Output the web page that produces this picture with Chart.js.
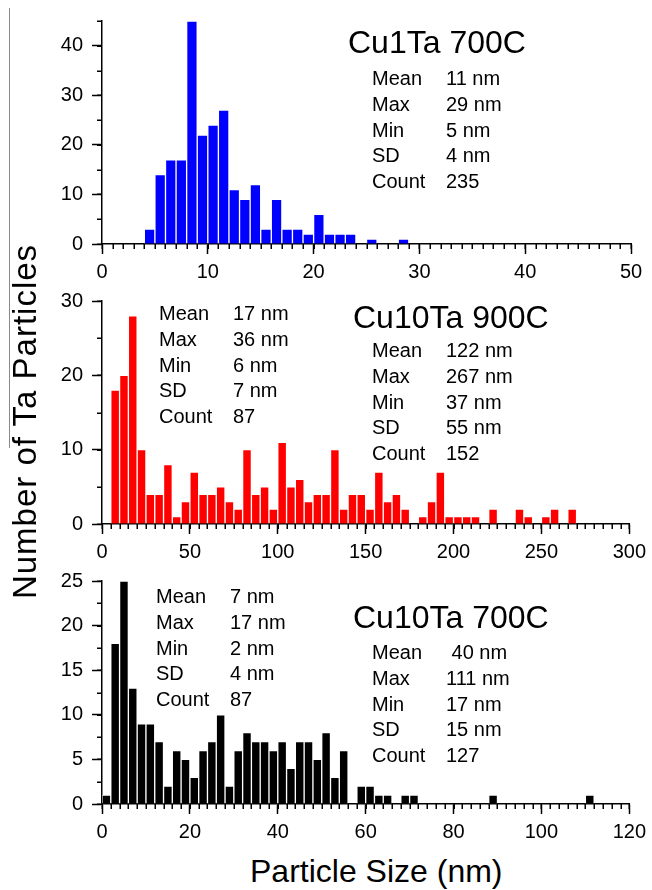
<!DOCTYPE html>
<html>
<head>
<meta charset="utf-8">
<script src="https://cdn.jsdelivr.net/npm/chart.js@4.4.1/dist/chart.umd.min.js"></script>
<style>
  body { margin: 0; background: #fff; }
  #wrap { position: relative; width: 652px; height: 890px; overflow: hidden;
          font-family: 'Liberation Sans', Arial, sans-serif; color: #000; }
  canvas { position: absolute; left: 0; }
  .txt { position: absolute; white-space: pre; line-height: 1; }
  .edge { position: absolute; left: 9px; top: 8px; height: 440px; border-left: 1px solid #8a8a8a; }
</style>
</head>
<body>
<div id="wrap">
  <canvas id="c1" width="652" height="280" style="top:0px"></canvas>
  <canvas id="c2" width="652" height="280" style="top:280px"></canvas>
  <canvas id="c3" width="652" height="280" style="top:560px"></canvas>
  <div class="edge"></div>
</div>
<script>
// Cu1Ta 700C : bins of 1 nm starting at 4 nm
const cu1Ta700Start = 4;
const cu1Ta700Width = 1;
const cu1Ta700Counts = [3, 14, 17, 17, 45, 22, 24, 27, 11, 9, 12, 3, 9, 3, 3, 2, 6, 2, 2, 2, 0, 1, 0, 0, 1];
const cu1Ta700XTicks = [0, 10, 20, 30, 40, 50];
const cu1Ta700YTicks = [0, 10, 20, 30, 40];
const cu1Ta700YMax = 45;

// Cu10Ta 900C : bins of 5 nm starting at 5 nm
const cu10Ta900Start = 5;
const cu10Ta900Width = 5;
const cu10Ta900Counts = [18, 20, 28, 10, 4, 4, 8, 1, 3, 7, 4, 4, 5, 3, 2, 10, 4, 5, 2, 11,
                         5, 6, 3, 4, 4, 10, 2, 4, 4, 2, 7, 3, 4, 2, 0, 1, 3, 7, 1, 1,
                         1, 1, 0, 2, 0, 0, 2, 1, 0, 1, 2, 0, 2];
const cu10Ta900XTicks = [0, 50, 100, 150, 200, 250, 300];
const cu10Ta900YTicks = [0, 10, 20, 30];
const cu10Ta900YMax = 30;

// Cu10Ta 700C : bins of 2 nm starting at 0 nm
const cu10Ta700Start = 0;
const cu10Ta700Width = 2;
const cu10Ta700Counts = [1, 18, 25, 13, 9, 9, 7, 2, 6, 5, 3, 6, 7, 10, 2, 6, 8, 7, 7, 6,
                         7, 4, 7, 7, 5, 8, 3, 6, 0, 2, 2, 1, 1, 0, 1, 1, 0, 0, 0, 0,
                         0, 0, 0, 0, 1, 0, 0, 0, 0, 0, 0, 0, 0, 0, 0, 1];
const cu10Ta700XTicks = [0, 20, 40, 60, 80, 100, 120];
const cu10Ta700YTicks = [0, 5, 10, 15, 20, 25];
const cu10Ta700YMax = 25;

const statLabels = ['Mean', 'Max', 'Min', 'SD', 'Count'];
const cu1Ta700Stats = ['11 nm', '29 nm', '5 nm', '4 nm', '235'];
const cu10Ta900StatsSmall = ['17 nm', '36 nm', '6 nm', '7 nm', '87'];
const cu10Ta900StatsLarge = ['122 nm', '267 nm', '37 nm', '55 nm', '152'];
const cu10Ta700StatsSmall = ['7 nm', '17 nm', '2 nm', '4 nm', '87'];
const cu10Ta700StatsLarge = [' 40 nm', '111 nm', '17 nm', '15 nm', '127'];

Chart.defaults.font.family = "'Liberation Sans', Arial, sans-serif";
Chart.defaults.font.size = 20;
Chart.defaults.color = '#000';

// short ticks between the labelled ones
const minorTicks = {
  id: 'minorTicks',
  afterDraw(chart, args, opts) {
    const { ctx, chartArea, scales } = chart;
    ctx.save();
    ctx.strokeStyle = '#000';
    ctx.lineWidth = 1.5;
    ctx.beginPath();
    for (let i = 0; ; i++) {
      const v = scales.x.min + i * opts.x;
      if (v > scales.x.max + 1e-9) break;
      const px = Math.round(scales.x.getPixelForValue(v)) + 0.25;
      ctx.moveTo(px, chartArea.bottom);
      ctx.lineTo(px, chartArea.bottom + 5);
    }
    for (let i = 0; ; i++) {
      const v = scales.y.min + i * opts.y;
      if (v > scales.y.max + 1e-9) break;
      const py = Math.round(scales.y.getPixelForValue(v)) + 0.25;
      ctx.moveTo(chartArea.left, py);
      ctx.lineTo(chartArea.left - 5, py);
    }
    ctx.stroke();
    ctx.restore();
  }
};

function makeChart(id, color, start, width, counts, xTicks, yTicks, yMax, xMinor, yMinor) {
  const points = counts.map((c, i) => ({ x: start + width * (i + 0.5), y: c }));
  const axisGrid = { drawOnChartArea: false, drawTicks: true, tickLength: 10, tickWidth: 1.5, tickColor: '#000' };
  const axisBorder = { display: true, color: '#000', width: 1.5 };

  return new Chart(document.getElementById(id), {
    type: 'bar',
    data: {
      datasets: [{
        data: points,
        backgroundColor: color,
        borderColor: 'rgba(255, 255, 255, 0.55)',
        borderWidth: 1,
        borderSkipped: 'bottom',
        barPercentage: 1,
        categoryPercentage: 1
      }]
    },
    options: {
      responsive: false,
      animation: false,
      layout: { padding: { top: 14, right: 21, left: 0, bottom: 0 } },
      scales: {
        x: {
          type: 'linear',
          offset: false,
          min: xTicks[0],
          max: xTicks[xTicks.length - 1],
          afterBuildTicks: s => { s.ticks = xTicks.map(v => ({ value: v })); },
          afterFit: s => { s.height = 36; },
          ticks: { padding: 6, maxRotation: 0, autoSkip: false },
          grid: Object.assign({ offset: false }, axisGrid),
          border: axisBorder
        },
        y: {
          min: 0,
          max: yMax,
          afterBuildTicks: s => { s.ticks = yTicks.map(v => ({ value: v })); },
          afterFit: s => { s.width = 102; },
          ticks: { padding: 9, autoSkip: false },
          grid: axisGrid,
          border: axisBorder
        }
      },
      plugins: {
        legend: { display: false },
        tooltip: { enabled: false },
        minorTicks: { x: xMinor, y: yMinor }
      }
    },
    plugins: [minorTicks]
  });
}

makeChart('c1', '#0000ff', cu1Ta700Start, cu1Ta700Width, cu1Ta700Counts,
          cu1Ta700XTicks, cu1Ta700YTicks, cu1Ta700YMax, 1, 5);
makeChart('c2', '#ff0000', cu10Ta900Start, cu10Ta900Width, cu10Ta900Counts,
          cu10Ta900XTicks, cu10Ta900YTicks, cu10Ta900YMax, 5, 5);
makeChart('c3', '#000000', cu10Ta700Start, cu10Ta700Width, cu10Ta700Counts,
          cu10Ta700XTicks, cu10Ta700YTicks, cu10Ta700YMax, 2, 2.5);

// text overlays (positioned by baseline)
const wrap = document.getElementById('wrap');
function addText(str, x, baseline, size) {
  const d = document.createElement('div');
  d.className = 'txt';
  d.textContent = str;
  d.style.left = x + 'px';
  d.style.top = (baseline - 0.8465 * size) + 'px';
  d.style.fontSize = size + 'px';
  wrap.appendChild(d);
  return d;
}
function addStats(values, xLabel, xValue, firstBaseline) {
  statLabels.forEach((lab, i) => {
    addText(lab, xLabel, firstBaseline + i * 25.8, 20);
    addText(values[i], xValue, firstBaseline + i * 25.8, 20);
  });
}

addText('Cu1Ta 700C', 348, 53, 32);
addStats(cu1Ta700Stats, 372, 446, 85);

addText('Cu10Ta 900C', 353, 328, 32);
addStats(cu10Ta900StatsSmall, 159, 233, 320);
addStats(cu10Ta900StatsLarge, 372, 446, 357);

addText('Cu10Ta 700C', 353, 628, 32);
addStats(cu10Ta700StatsSmall, 156, 230, 603);
addStats(cu10Ta700StatsLarge, 372, 446, 659);

addText('Particle Size (nm)', 250, 882, 32);

const yTitle = document.createElement('div');
yTitle.className = 'txt';
yTitle.textContent = 'Number of Ta Particles';
yTitle.style.fontSize = '33px';
yTitle.style.letterSpacing = '1px';
yTitle.style.width = '420px';
yTitle.style.textAlign = 'center';
yTitle.style.left = (24 - 210) + 'px';
yTitle.style.top = (421 - 16.5) + 'px';
yTitle.style.transform = 'rotate(-90deg)';
wrap.appendChild(yTitle);
</script>
</body>
</html>
